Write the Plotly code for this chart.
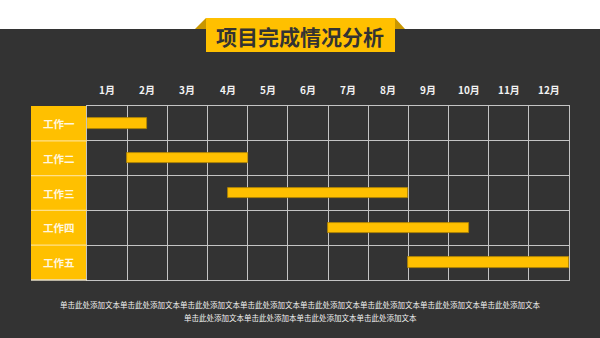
import plotly.graph_objects as go

# ---- data ----
tasks = ["工作一", "工作二", "工作三", "工作四", "工作五"]
start_month = [0, 1, 3.5, 6, 8]
end_month = [1.5, 4, 8, 9.5, 12]
month_labels = ["1月", "2月", "3月", "4月", "5月", "6月", "7月", "8月", "9月", "10月", "11月", "12月"]
title_text = "项目完成情况分析"
footer_line1 = "单击此处添加文本" * 8
footer_line2 = "单击此处添加文本单击此处添加本单击此处添加文本单击此处添加文本"

# ---- style ----
W, H = 600, 338
L, R, T, B = 87, 31, 106, 58
PW, PH = W - L - R, H - T - B
DARK = "#333333"
YEL = "#FFC000"
YEL_D = "#C89600"
GRID = "#C4C4C4"
FONT = "Noto Sans CJK SC"


def px(x):
    return (x - L) / PW


def py(y):
    return (H - B - y) / PH


durations = [e - s for s, e in zip(start_month, end_month)]
row_pos = [i + 0.5 for i in range(len(tasks))]

fig = go.Figure()
fig.add_trace(go.Bar(
    orientation="h",
    y=row_pos,
    x=durations,
    base=start_month,
    width=0.3,
    marker=dict(color=YEL, line=dict(color="#B38600", width=0.8)),
    hoverinfo="skip",
    showlegend=False,
))

shapes = []
# white top band
shapes.append(dict(type="rect", xref="paper", yref="paper", x0=px(0), x1=px(W), y0=py(29), y1=py(0),
                   fillcolor="#FFFFFF", line=dict(width=0), layer="below"))
# banner tabs
shapes.append(dict(type="path", xref="paper", yref="paper",
                   path=f"M {px(195)} {py(29)} L {px(206)} {py(18)} L {px(206)} {py(29)} Z",
                   fillcolor=YEL_D, line=dict(width=0), layer="above"))
shapes.append(dict(type="path", xref="paper", yref="paper",
                   path=f"M {px(395)} {py(18)} L {px(405)} {py(29)} L {px(395)} {py(29)} Z",
                   fillcolor=YEL_D, line=dict(width=0), layer="above"))
# banner box
shapes.append(dict(type="rect", xref="paper", yref="paper", x0=px(206), x1=px(395), y0=py(52), y1=py(18),
                   fillcolor=YEL, line=dict(width=0), layer="above"))
# label column
shapes.append(dict(type="rect", xref="paper", yref="paper", x0=px(31), x1=0, y0=0, y1=1,
                   fillcolor=YEL, line=dict(width=0), layer="below"))
# label column separators
for i in range(1, len(tasks)):
    shapes.append(dict(type="line", xref="paper", yref="y", x0=px(31), x1=0, y0=i, y1=i,
                       line=dict(color="#FFE08A", width=1.2)))
# bottom line across label column
shapes.append(dict(type="line", xref="paper", yref="paper", x0=px(31), x1=0, y0=0, y1=0,
                   line=dict(color="#E8E0C8", width=1.3)))

annotations = []
annotations.append(dict(text=f"<b>{title_text}</b>", xref="paper", yref="paper", x=px(300), y=py(36),
                        showarrow=False, font=dict(family=FONT, size=21, color=DARK),
                        xanchor="center", yanchor="middle"))
for i, m in enumerate(month_labels):
    annotations.append(dict(text=f"<b>{m}</b>", xref="x", yref="paper", x=i + 0.5, y=py(89),
                            showarrow=False, font=dict(family=FONT, size=10, color="#F2F2F2"),
                            xanchor="center", yanchor="middle"))
for t, yv in zip(tasks, row_pos):
    annotations.append(dict(text=f"<b>{t}</b>", xref="paper", yref="y", x=px(59), y=yv,
                            showarrow=False, font=dict(family=FONT, size=10.5, color="#FFF7E0"),
                            xanchor="center", yanchor="middle"))
annotations.append(dict(text=footer_line1, xref="paper", yref="paper", x=px(300), y=py(304),
                        showarrow=False, font=dict(family=FONT, size=7.5, color="#F2F2F2"),
                        xanchor="center", yanchor="middle"))
annotations.append(dict(text=footer_line2, xref="paper", yref="paper", x=px(300), y=py(317),
                        showarrow=False, font=dict(family=FONT, size=7.5, color="#F2F2F2"),
                        xanchor="center", yanchor="middle"))

fig.update_layout(
    width=W, height=H,
    margin=dict(l=L, r=R, t=T, b=B, pad=0),
    paper_bgcolor=DARK, plot_bgcolor=DARK,
    shapes=shapes, annotations=annotations,
    xaxis=dict(range=[0, 12], tick0=0, dtick=1, showgrid=True, gridcolor=GRID, gridwidth=1.3,
               showticklabels=False, ticks="", zeroline=False,
               showline=True, mirror=True, linecolor=GRID, linewidth=1.3, fixedrange=True),
    yaxis=dict(range=[5, 0], tick0=0, dtick=1, showgrid=True, gridcolor=GRID, gridwidth=1.3,
               showticklabels=False, ticks="", zeroline=False,
               showline=True, mirror=True, linecolor=GRID, linewidth=1.3, fixedrange=True),
    bargap=0,
)

fig.write_html("out.html", config={"displayModeBar": False})
